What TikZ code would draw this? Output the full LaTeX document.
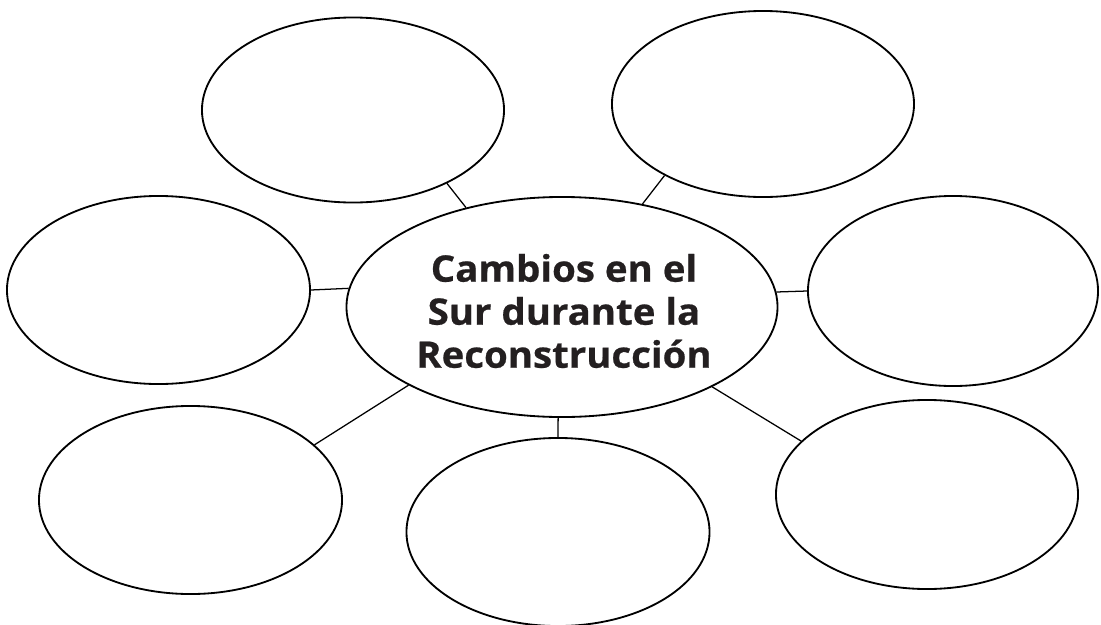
\documentclass[tikz,border=0pt]{standalone}
\usepackage{fontspec}
\usepackage{xcolor}
\usetikzlibrary{shapes.geometric}
\newfontfamily\hubfont{Open Sans}[FakeStretch=1.05, FakeBold=0.6]
\definecolor{inkline}{HTML}{000000}
\definecolor{inktext}{HTML}{231F20}

\begin{document}
\begin{tikzpicture}[
    x=0.025cm, y=-0.025cm,
    bubble/.style={ellipse, draw=inkline, line width=1.3pt, inner sep=0pt},
    hubtxt/.style={font=\hubfont\bfseries\fontsize{26pt}{30.6pt}\selectfont, text=inktext, align=center, inner sep=0pt},
    spoke/.style={draw=inkline, line width=0.9pt}
]
\useasboundingbox (0,0) rectangle (1101,625);

% centre
\node[bubble, minimum width=10.775cm, minimum height=5.5cm] (hub) at (562,307) {};
\node[hubtxt] (title) at (564,311) {Cambios en el\\Sur durante la\\Reconstrucción};

% outer ring
\node[bubble, minimum width=7.55cm, minimum height=4.625cm] (topl) at (353,110) {};
\node[bubble, minimum width=7.55cm, minimum height=4.65cm] (topr) at (763,104) {};
\node[bubble, minimum width=7.575cm, minimum height=4.7cm] (left) at (158.5,290) {};
\node[bubble, minimum width=7.25cm, minimum height=4.75cm] (right) at (953,291) {};
\node[bubble, minimum width=7.575cm, minimum height=4.7cm] (botl) at (190.5,500) {};
\node[bubble, minimum width=7.575cm, minimum height=4.7cm] (botc) at (558,532) {};
\node[bubble, minimum width=7.55cm, minimum height=4.725cm] (botr) at (927,494.5) {};

\draw[spoke] (hub.134) -- (topl.322);
\draw[spoke] (hub.52) -- (topr.216);
\draw[spoke] (hub.175.5) -- (left.east);
\draw[spoke] (hub.4.8) -- (right.west);
\draw[spoke] (hub.207) -- (botl.24);
\draw[spoke] (hub.268) -- (botc.north);
\draw[spoke] (hub.332) -- (botr.157);
\end{tikzpicture}
\end{document}
